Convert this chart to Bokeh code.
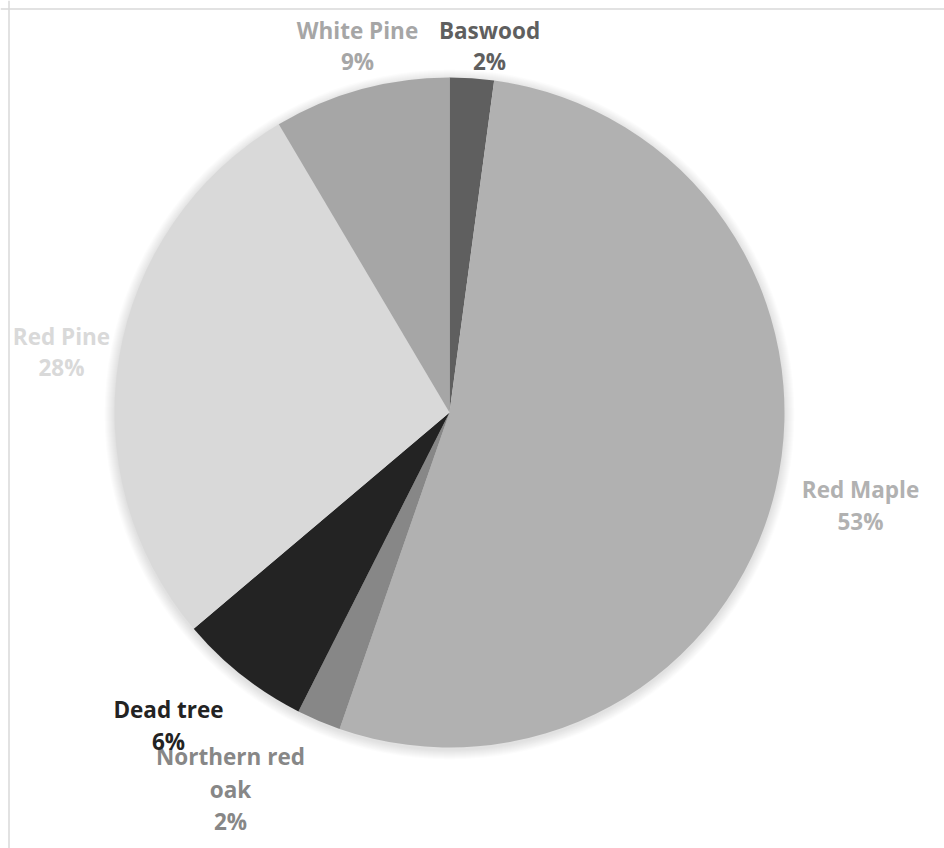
import math
from bokeh.plotting import figure
from bokeh.models import ColumnDataSource, Span
from bokeh.core.properties import value
from bokeh.embed import file_html
from bokeh.resources import INLINE

# ---- data ----
species = ["Baswood", "Red Maple", "Northern red oak", "Dead tree", "Red Pine", "White Pine"]
counts = [1, 25, 1, 3, 13, 4]
colors = ["#5f5f5f", "#b1b1b1", "#878787", "#232323", "#d9d9d9", "#a6a6a6"]

# ---- layout (page pixel positions of label lines) ----
W, H = 944, 848
CX, CY, R = 449, 412, 335
label_lines = {
    "Baswood": [("Baswood", 489, 30), ("{p}", 489, 61)],
    "Red Maple": [("Red Maple", 860, 489), ("{p}", 860, 521)],
    "Northern red oak": [("Northern red", 230, 756), ("oak", 230, 789), ("{p}", 230, 821)],
    "Dead tree": [("Dead tree", 168, 709), ("{p}", 168, 741)],
    "Red Pine": [("Red Pine", 61, 336), ("{p}", 61, 367)],
    "White Pine": [("White Pine", 357, 30), ("{p}", 357, 61)],
}

def dx(px):
    return px

def dy(py):
    return H - py

total = sum(counts)
starts, ends, cum = [], [], 0
for c in counts:
    starts.append(math.pi / 2 - 2 * math.pi * cum / total)
    cum += c
    ends.append(math.pi / 2 - 2 * math.pi * cum / total)

src = ColumnDataSource(dict(
    x=[dx(CX)] * len(counts), y=[dy(CY)] * len(counts),
    start=starts, end=ends, color=colors, name=species,
))

p = figure(width=W, height=H, x_range=(0, W), y_range=(0, H),
           output_backend="svg", toolbar_location=None, min_border=0,
           outline_line_color=None)
p.axis.visible = False
p.grid.visible = False
p.background_fill_color = "white"

# soft shadow
for i in range(10, 0, -1):
    p.circle(x=[dx(CX)], y=[dy(CY) - 2], radius=R + i, fill_color="black",
             fill_alpha=0.012, line_color=None)

p.wedge(x="x", y="y", radius=R, start_angle="start", end_angle="end",
        direction="clock", fill_color="color", line_color=None, source=src)

tx, ty, tt, tc = [], [], [], []
for s, c, col in zip(species, counts, colors):
    pct = f"{round(100 * c / total)}%"
    for txt, px, py in label_lines[s]:
        tx.append(dx(px)); ty.append(dy(py))
        tt.append(txt.replace("{p}", pct)); tc.append(col)

p.text(x=tx, y=ty, text=tt, text_color=tc, text_align="center",
       text_baseline="middle", text_font=value("Open Sans"),
       text_font_style="bold", text_font_size="22.5px")

# chart area border (left and top visible)
p.add_layout(Span(location=8.5, dimension="height", line_color="#d9d9d9", line_width=1.5))
p.add_layout(Span(location=H - 8.5, dimension="width", line_color="#d9d9d9", line_width=1.5))

open("out.html", "w").write(file_html(p, INLINE))
